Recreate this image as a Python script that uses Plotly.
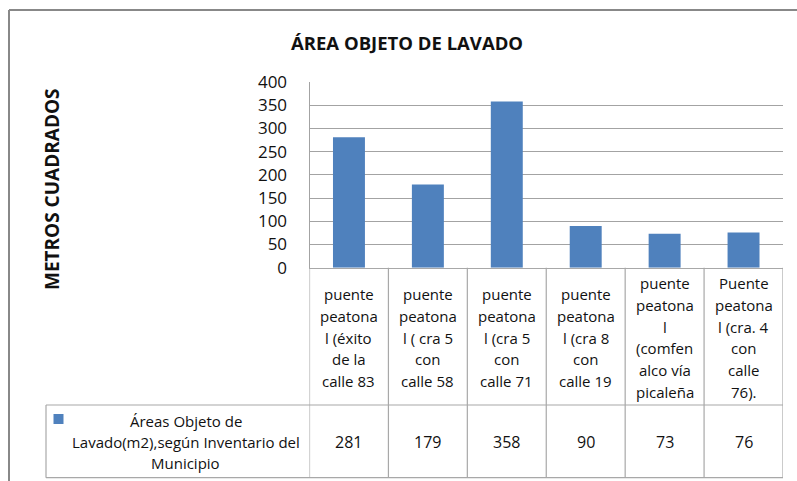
import plotly.graph_objects as go

W, H = 797, 481

# ---- data -------------------------------------------------------------
categories = [
    "puente peatonal (éxito de la calle 83",
    "puente peatonal ( cra 5 con calle 58",
    "puente peatonal (cra 5 con calle 71",
    "puente peatonal (cra 8 con calle 19",
    "puente peatonal (comfenalco vía picaleña",
    "Puente peatonal (cra. 4 con calle 76).",
]
# category names as they wrap inside the data-table cells
category_lines = [
    ["puente", "peatona", "l (éxito", "de la", "calle 83"],
    ["puente", "peatona", "l ( cra 5", "con", "calle 58"],
    ["puente", "peatona", "l (cra 5", "con", "calle 71"],
    ["puente", "peatona", "l (cra 8", "con", "calle 19"],
    ["puente", "peatona", "l", "(comfen", "alco vía", "picaleña"],
    ["Puente", "peatona", "l (cra. 4", "con", "calle", "76)."],
]
areas_m2 = [281, 179, 358, 90, 73, 76]
series_name_lines = ["Áreas Objeto de", "Lavado(m2),según Inventario del", "Municipio"]
y_tick_values = [0, 50, 100, 150, 200, 250, 300, 350, 400]
chart_title = "ÁREA OBJETO DE LAVADO"
y_axis_title = "METROS CUADRADOS"

# ---- styling ----------------------------------------------------------
BAR_COLOR = "#4F81BD"
GRID_COLOR = "#A3A3A3"
TABLE_COLOR = "#A8A8A8"
FRAME_COLOR = "#888888"
TEXT_COLOR = "#111111"
FONT = "Open Sans"


def px(x):
    return x / W


def py(y):
    return 1 - y / H


plot_left, plot_right = 309.5, 783.0
plot_top, plot_bottom = 82.0, 267.7
row1_bottom = 405.0
row2_bottom = 477.7
table_left = 46.0

fig = go.Figure(
    go.Bar(
        x=categories,
        y=areas_m2,
        marker=dict(color=BAR_COLOR, line=dict(width=0)),
        width=0.405,
        showlegend=False,
        hoverinfo="x+y",
    )
)

annotations = []
shapes = []

# title and vertical axis title
annotations.append(dict(
    text=f"<b>{chart_title}</b>", xref="paper", yref="paper",
    x=px(406.5), y=py(42), xanchor="center", yanchor="middle",
    showarrow=False, font=dict(family=FONT, size=18.5, color=TEXT_COLOR),
))
annotations.append(dict(
    text=f"<b>{y_axis_title}</b>", xref="paper", yref="paper",
    x=px(52), y=py(189), xanchor="center", yanchor="middle", textangle=-90,
    showarrow=False, font=dict(family=FONT, size=19, color=TEXT_COLOR),
))

# data table: category row
line_step = 21.7
row1_center = 337.5
for cat, lines in zip(categories, category_lines):
    n = len(lines)
    for j, txt in enumerate(lines):
        yy = row1_center + (j - (n - 1) / 2) * line_step
        annotations.append(dict(
            text=txt, xref="x", yref="paper", x=cat, y=py(yy),
            xanchor="center", yanchor="middle", showarrow=False,
            font=dict(family=FONT, size=15, color=TEXT_COLOR),
        ))

# data table: value row
row2_center = 442.0
for cat, v in zip(categories, areas_m2):
    annotations.append(dict(
        text=str(v), xref="x", yref="paper", x=cat, y=py(row2_center),
        xanchor="center", yanchor="middle", showarrow=False,
        font=dict(family=FONT, size=16, color=TEXT_COLOR),
    ))

# series name cell with legend key
n = len(series_name_lines)
for j, txt in enumerate(series_name_lines):
    yy = row2_center + (j - (n - 1) / 2) * 20.8
    annotations.append(dict(
        text=txt, xref="paper", yref="paper", x=px(185.5), y=py(yy),
        xanchor="center", yanchor="middle", showarrow=False,
        font=dict(family=FONT, size=15, color=TEXT_COLOR),
    ))
shapes.append(dict(
    type="rect", xref="paper", yref="paper",
    x0=px(53.5), x1=px(63.5), y0=py(424), y1=py(414),
    fillcolor=BAR_COLOR, line=dict(width=0),
))

# table grid
tl = dict(color=TABLE_COLOR, width=1.2)
for i in range(len(categories) + 1):
    shapes.append(dict(
        type="line", xref="x", yref="paper",
        x0=i - 0.5, x1=i - 0.5, y0=py(plot_bottom), y1=py(row2_bottom), line=tl,
    ))
for yy in (row1_bottom, row2_bottom):
    shapes.append(dict(
        type="line", xref="paper", yref="paper",
        x0=px(table_left), x1=px(plot_right), y0=py(yy), y1=py(yy), line=tl,
    ))
shapes.append(dict(
    type="line", xref="paper", yref="paper",
    x0=px(table_left), x1=px(table_left), y0=py(row1_bottom), y1=py(row2_bottom), line=tl,
))

# outer chart frame (left and top edges)
frame = dict(color=FRAME_COLOR, width=2)
shapes.append(dict(type="line", xref="paper", yref="paper",
                   x0=px(9), x1=1, y0=py(10), y1=py(10), line=frame))
shapes.append(dict(type="line", xref="paper", yref="paper",
                   x0=px(9), x1=px(9), y0=py(10), y1=0, line=frame))

fig.update_layout(
    width=W, height=H,
    margin=dict(l=0, r=0, t=0, b=0, pad=0, autoexpand=False),
    paper_bgcolor="white", plot_bgcolor="white",
    font=dict(family=FONT, color=TEXT_COLOR),
    annotations=annotations, shapes=shapes,
    xaxis=dict(
        domain=[px(plot_left), px(plot_right)],
        range=[-0.5, len(categories) - 0.5],
        showticklabels=False, ticks="", showgrid=False, zeroline=False,
        showline=True, linecolor=TABLE_COLOR, linewidth=1.2,
        automargin=False, fixedrange=True,
    ),
    yaxis=dict(
        domain=[py(plot_bottom), py(plot_top)],
        range=[0, 400], tickvals=y_tick_values,
        ticks="", ticklabelstandoff=18,
        tickfont=dict(family=FONT, size=17, color=TEXT_COLOR),
        showgrid=True, gridcolor=GRID_COLOR, gridwidth=1,
        zeroline=False, showline=True, linecolor=GRID_COLOR, linewidth=1,
        automargin=False, fixedrange=True,
    ),
)

fig.write_html("out.html")
